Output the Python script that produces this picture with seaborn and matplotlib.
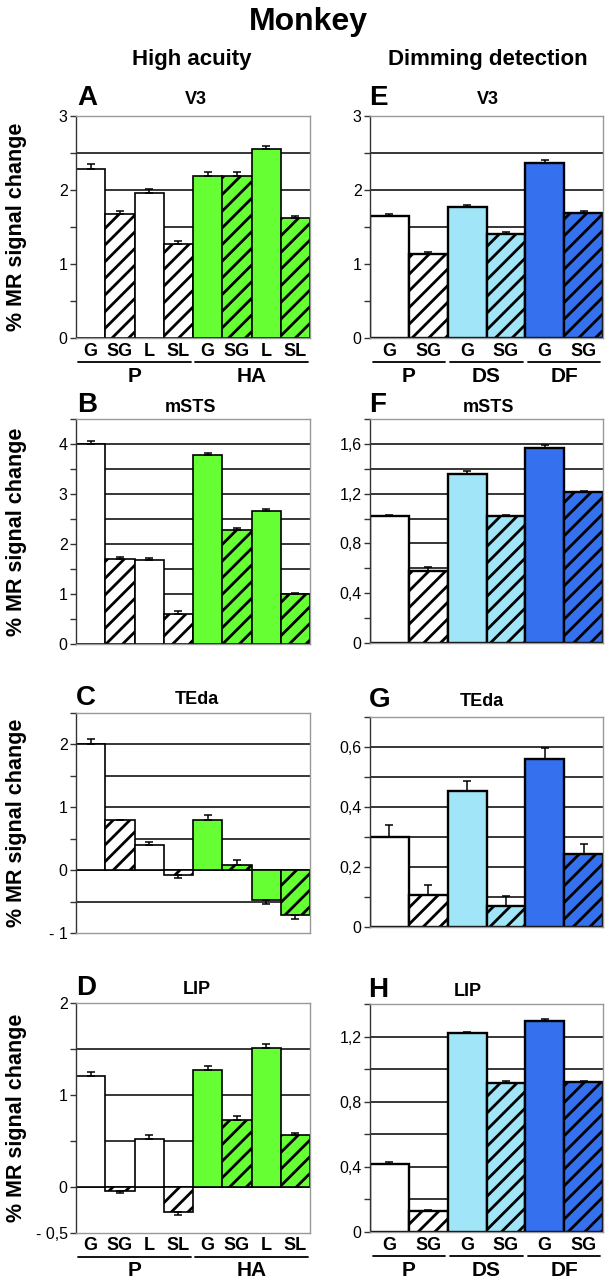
"""
Monkey fMRI: % MR signal change per ROI (high acuity vs dimming detection).
seaborn barplot + manual group labels.
"""

import matplotlib
matplotlib.use("Agg")
import matplotlib.pyplot as plt
import matplotlib.transforms as mtransforms
from matplotlib.ticker import MultipleLocator, FuncFormatter, FixedLocator
import seaborn as sns
import pandas as pd
import numpy as np

# ============================================================
# Data
# ============================================================
HA_BARS = ["G", "SG", "L", "SL", "G", "SG", "L", "SL"]
HA_GROUPS = ["P", "HA"]
HA_GROUP_SIZE = 4
HA_HATCHED = [False, True, False, True, False, True, False, True]

DD_BARS = ["G", "SG", "G", "SG", "G", "SG"]
DD_GROUPS = ["P", "DS", "DF"]
DD_GROUP_SIZE = 2
DD_HATCHED = [False, True, False, True, False, True]

# high acuity (left column)
V3_HA = [2.28, 1.67, 1.96, 1.27, 2.19, 2.19, 2.55, 1.62]
V3_HA_ERR = [0.07, 0.05, 0.05, 0.04, 0.05, 0.05, 0.05, 0.03]
MSTS_HA = [4.00, 1.71, 1.68, 0.61, 3.79, 2.29, 2.67, 1.00]
MSTS_HA_ERR = [0.07, 0.04, 0.05, 0.05, 0.03, 0.03, 0.03, 0.03]
TEDA_HA = [2.00, 0.79, 0.40, -0.08, 0.80, 0.075, -0.48, -0.72]
TEDA_HA_ERR = [0.08, 0.0, 0.05, 0.05, 0.08, 0.08, 0.06, 0.05]
LIP_HA = [1.21, -0.04, 0.52, -0.27, 1.27, 0.73, 1.51, 0.56]
LIP_HA_ERR = [0.04, 0.03, 0.04, 0.03, 0.04, 0.04, 0.04, 0.03]

# dimming detection (right column)
V3_DD = [1.65, 1.13, 1.77, 1.41, 2.36, 1.69]
V3_DD_ERR = [0.03, 0.03, 0.03, 0.02, 0.05, 0.03]
MSTS_DD = [1.02, 0.58, 1.36, 1.02, 1.57, 1.21]
MSTS_DD_ERR = [0.01, 0.03, 0.02, 0.01, 0.02, 0.01]
TEDA_DD = [0.30, 0.107, 0.454, 0.07, 0.561, 0.242]
TEDA_DD_ERR = [0.04, 0.033, 0.033, 0.032, 0.035, 0.035]
LIP_DD = [0.42, 0.127, 1.222, 0.915, 1.298, 0.919]
LIP_DD_ERR = [0.01, 0.01, 0.004, 0.01, 0.01, 0.01]

# ============================================================
# Style
# ============================================================
sns.set_theme(style="white")
plt.rcParams["font.family"] = ["Liberation Sans", "DejaVu Sans"]
plt.rcParams["hatch.linewidth"] = 2.0
plt.rcParams["text.color"] = "black"
plt.rcParams["axes.labelcolor"] = "black"
plt.rcParams["ytick.color"] = "black"

WHITE = "#ffffff"
GREEN = "#66ff33"
LIGHT_BLUE = "#a0e6f8"
BLUE = "#3570ee"
HA_COLORS = [WHITE] * 4 + [GREEN] * 4
DD_COLORS = [WHITE, WHITE, LIGHT_BLUE, LIGHT_BLUE, BLUE, BLUE]

W, H, DPI = 616, 1280, 100
fig = plt.figure(figsize=(W / DPI, H / DPI), dpi=DPI)
fig.patch.set_facecolor("white")


def px_rect(left, top, right, bottom):
    return [left / W, 1 - bottom / H, (right - left) / W, (bottom - top) / H]


def fig_text(x, y, s, **kw):
    fig.text(x / W, 1 - y / H, s, ha="center", va="center", color="black", **kw)


def tick_fmt(v, _):
    if abs(v) < 1e-9:
        return "0"
    s = f"{abs(v):g}".replace(".", ",")
    return ("- " + s) if v < 0 else s


def below(ax, dy):
    """x in data, y = axes bottom minus dy pixels."""
    return ax.get_xaxis_transform() + mtransforms.ScaledTranslation(
        0, -dy / DPI, fig.dpi_scale_trans)


def draw_panel(rect, values, errors, colors, hatched, ylim, major, minor,
               bars=None, groups=None, group_size=None, ylabel=False, lw=1.2):
    ax = fig.add_axes(px_rect(*rect))
    n = len(values)
    keys = [f"b{i}" for i in range(n)]
    df = pd.DataFrame({"bar": keys, "value": values})
    sns.barplot(data=df, x="bar", y="value", hue="bar",
                palette=dict(zip(keys, colors)), legend=False,
                width=1.0, saturation=1, edgecolor="black", linewidth=lw,
                errorbar=None, ax=ax, zorder=2)
    for patch, h in zip(ax.patches, hatched):
        if h:
            patch.set_hatch("//")

    vals = np.array(values)
    errs = np.array(errors)
    lower = np.where(vals < 0, errs, 0)
    upper = np.where(vals >= 0, errs, 0)
    ax.errorbar(np.arange(n), vals, yerr=[lower, upper], fmt="none",
                ecolor="black", elinewidth=1.1, capsize=3, capthick=1.1,
                zorder=3)

    lo, hi = ylim
    ax.set_xlim(-0.5, n - 0.5)
    ax.set_ylim(lo, hi)
    ax.yaxis.set_major_locator(MultipleLocator(major))
    ax.yaxis.set_minor_locator(MultipleLocator(minor))
    ax.yaxis.set_major_formatter(FuncFormatter(tick_fmt))
    for v in np.arange(lo, hi + 1e-9, minor):
        if (lo + 1e-9 < v < hi - 1e-9) or abs(v) < 1e-9:
            ax.axhline(v, color="black", lw=1.1, zorder=0.5)

    ax.set_xticks([])
    ax.set_xlabel("")
    ax.set_ylabel("")
    ax.tick_params(axis="y", which="both", direction="out", length=4,
                   width=1, color="#333333", left=True, labelsize=11.5,
                   pad=2, labelcolor="black")
    for side in ["top", "right", "bottom"]:
        ax.spines[side].set_color("#999999")
        ax.spines[side].set_linewidth(1)
    ax.spines["left"].set_color("#333333")
    ax.spines["left"].set_linewidth(1)

    if ylabel:
        ax.set_ylabel("% MR signal change", fontsize=15.5, fontweight="bold")
        ax.yaxis.set_label_coords(-0.21, 0.5)

    if bars is not None:
        for i, lab in enumerate(bars):
            ax.text(i, 0, lab, transform=below(ax, 13), ha="center",
                    va="center", fontsize=13, fontweight="bold")
        for g, name in enumerate(groups):
            start = g * group_size
            end = start + group_size - 1
            ax.plot([start - 0.43, end + 0.43], [0, 0], color="black",
                    lw=1.3, transform=below(ax, 24), clip_on=False)
            ax.text((start + end) / 2, 0, name, transform=below(ax, 38),
                    ha="center", va="center", fontsize=15, fontweight="bold")
    return ax


# ============================================================
# Panels
# ============================================================
draw_panel((76, 116, 310, 338), V3_HA, V3_HA_ERR, HA_COLORS, HA_HATCHED,
           (0, 3), 1, 0.5, HA_BARS, HA_GROUPS, HA_GROUP_SIZE, ylabel=True)
draw_panel((76, 419, 310, 644), MSTS_HA, MSTS_HA_ERR, HA_COLORS, HA_HATCHED,
           (0, 4.5), 1, 0.5, ylabel=True)
draw_panel((76, 713, 310, 933), TEDA_HA, TEDA_HA_ERR, HA_COLORS, HA_HATCHED,
           (-1, 2.5), 1, 0.5, ylabel=True)
ax_d = draw_panel((76, 1003, 310, 1233), LIP_HA, LIP_HA_ERR, HA_COLORS,
                  HA_HATCHED, (-0.5, 2), 0.5, 0.5, HA_BARS, HA_GROUPS,
                  HA_GROUP_SIZE, ylabel=True)
ax_d.yaxis.set_major_locator(FixedLocator([-0.5, 0, 1, 2]))

draw_panel((370, 116, 603, 338), V3_DD, V3_DD_ERR, DD_COLORS, DD_HATCHED,
           (0, 3), 1, 0.5, DD_BARS, DD_GROUPS, DD_GROUP_SIZE, lw=1.7)
draw_panel((370, 419, 603, 643), MSTS_DD, MSTS_DD_ERR, DD_COLORS, DD_HATCHED,
           (0, 1.8), 0.4, 0.2, lw=1.7)
draw_panel((370, 717, 603, 927), TEDA_DD, TEDA_DD_ERR, DD_COLORS, DD_HATCHED,
           (0, 0.7), 0.2, 0.1, lw=1.7)
draw_panel((370, 1004, 603, 1232), LIP_DD, LIP_DD_ERR, DD_COLORS, DD_HATCHED,
           (0, 1.4), 0.4, 0.2, DD_BARS, DD_GROUPS, DD_GROUP_SIZE, lw=1.7)

# ============================================================
# Titles and panel letters
# ============================================================
fig_text(308, 22, "Monkey", fontsize=23, fontweight="bold")
fig_text(192, 60, "High acuity", fontsize=16, fontweight="bold")
fig_text(488, 60, "Dimming detection", fontsize=16, fontweight="bold")

LETTER_KW = dict(fontsize=20, fontweight="bold")
TITLE_KW = dict(fontsize=13, fontweight="bold")
for letter, lx, title, tx, y in [
    ("A", 87, "V3", 196, 98), ("E", 378, "V3", 488, 98),
    ("B", 87, "mSTS", 190, 405), ("F", 378, "mSTS", 488, 405),
    ("C", 86, "TEda", 197, 698), ("G", 380, "TEda", 482, 700),
    ("D", 86, "LIP", 197, 988), ("H", 378, "LIP", 468, 990),
]:
    fig_text(lx, y, letter, **LETTER_KW)
    fig_text(tx, y + 2, title, **TITLE_KW)

fig.savefig("out.png", dpi=DPI, facecolor="white")
